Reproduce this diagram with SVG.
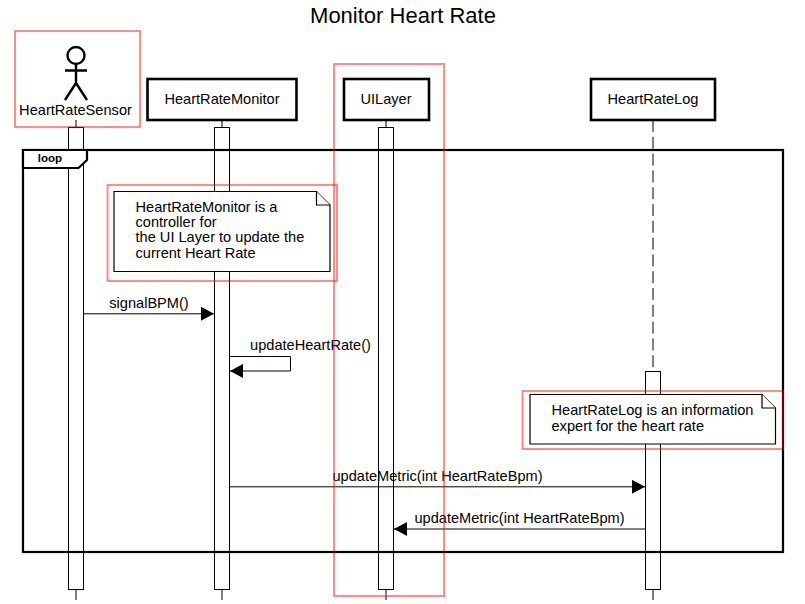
<svg xmlns="http://www.w3.org/2000/svg" width="805" height="604" viewBox="0 0 805 604">
<style>
text{font-family:"Liberation Sans",Arial,sans-serif;font-size:14.600px;fill:#000}
.ll{stroke:#000;stroke-width:1;fill:none}
.bar{fill:#fff;stroke:#000;stroke-width:1}
.box{fill:#fff;stroke:#000;stroke-width:2.6}
.note{fill:#fff;stroke:#000;stroke-width:1.2}
.msg{stroke:#000;stroke-width:1;fill:none}
.hl{fill:none;stroke:#f00;stroke-width:1.8;stroke-opacity:.5}
.stick{fill:none;stroke:#000;stroke-width:2.4}
</style>
<defs>
<marker id="a" markerUnits="userSpaceOnUse" markerWidth="14" markerHeight="14" refX="13" refY="7" orient="auto"><path d="M0 0L13 7L0 14Z" fill="#000"/></marker>
</defs>
<rect width="805" height="604" fill="#fff"/>
<text x="403" y="23" text-anchor="middle" style="font-size:22px">Monitor Heart Rate</text>
<g id="lifelines">
<path class="ll" d="M76 120V127M76 590V600M222 120V127M222 590V600M386 120V127M386 590V600M653 590V600"/>
<path class="ll" d="M653 120V371" stroke-dasharray="12 4.800"/>
</g>
<g id="activations">
<rect class="bar" x="68.500" y="127.500" width="15" height="462"/>
<rect class="bar" x="214.500" y="127.500" width="15" height="462"/>
<rect class="bar" x="378.500" y="127.500" width="15" height="462"/>
<rect class="bar" x="645.500" y="371.500" width="15" height="218"/>
</g>
<g id="HeartRateSensor">
<circle class="stick" cx="76" cy="55.500" r="8.500"/>
<path class="stick" d="M65 70.500H87M76 64V83M65 100L76 83L87 100"/>
<text x="75.500" y="115" text-anchor="middle">HeartRateSensor</text>
</g>
<g id="HeartRateMonitor">
<rect class="box" x="147.500" y="79" width="149" height="41"/>
<text x="222" y="104" text-anchor="middle">HeartRateMonitor</text>
</g>
<g id="UILayer">
<rect class="box" x="344" y="79" width="85" height="41"/>
<text x="386" y="104" text-anchor="middle">UILayer</text>
</g>
<g id="HeartRateLog">
<rect class="box" x="591" y="79" width="124" height="41"/>
<text x="653" y="104" text-anchor="middle">HeartRateLog</text>
</g>
<g id="loop">
<rect x="23" y="150" width="760" height="402" fill="none" stroke="#000" stroke-width="2.2"/>
<path d="M23 150H87V160L78.500 168H23Z" fill="#fff" stroke="#000" stroke-width="2.2"/>
<text x="50" y="162" text-anchor="middle" style="font-size:11.500px;font-weight:bold">loop</text>
</g>
<g id="note1">
<path class="note" d="M114 191.500H316.500L330 205V271.500H114Z"/>
<path class="note" d="M316.500 191.500V205H330"/>
<text x="135.500" y="212">HeartRateMonitor is a</text>
<text x="135.500" y="227">controller for</text>
<text x="135.500" y="242">the UI Layer to update the</text>
<text x="135.500" y="258">current Heart Rate</text>
</g>
<g id="note2">
<path class="note" d="M530 394.500H762L775.500 408V444H530Z"/>
<path class="note" d="M762 394.500V408H775.500"/>
<text x="551.500" y="415">HeartRateLog is an information</text>
<text x="551.500" y="431">expert for the heart rate</text>
</g>
<g id="connectors">
<path class="msg" d="M83.500 313.800H214" marker-end="url(#a)"/>
<path class="msg" d="M229.500 356.500H290.500V371H230" marker-end="url(#a)"/>
<path class="msg" d="M229.500 486.800H645" marker-end="url(#a)"/>
<path class="msg" d="M645.500 529H394" marker-end="url(#a)"/>
</g>
<g id="labels">
<text x="149" y="308" text-anchor="middle">signalBPM()</text>
<text x="310.500" y="350" text-anchor="middle">updateHeartRate()</text>
<text x="437.500" y="481" text-anchor="middle">updateMetric(int HeartRateBpm)</text>
<text x="519.500" y="523" text-anchor="middle">updateMetric(int HeartRateBpm)</text>
</g>
<g id="highlights">
<rect class="hl" x="15" y="31" width="125" height="96"/>
<rect class="hl" x="334" y="64" width="110" height="532"/>
<rect class="hl" x="107.500" y="185" width="229.500" height="96"/>
<rect class="hl" x="522.500" y="391" width="260.500" height="58"/>
</g>
</svg>
